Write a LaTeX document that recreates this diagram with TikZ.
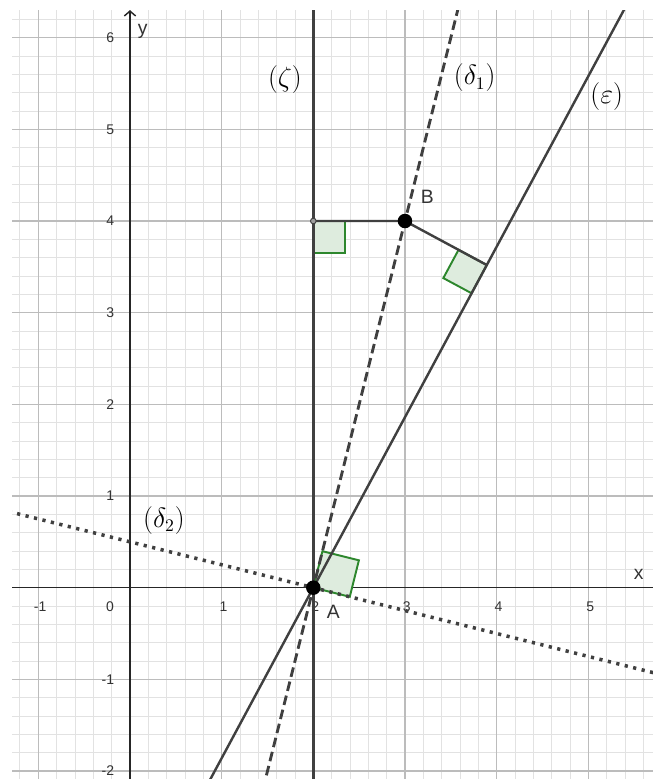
\documentclass[tikz,border=0pt]{standalone}
\usepackage{amsmath, amssymb}
\usepackage{fontspec}
\newfontfamily\geosf{Liberation Sans}
\usepackage{tikz}
\usetikzlibrary{calc, arrows.meta}
\definecolor{gridmajor}{RGB}{188,188,188}
\definecolor{gridminor}{RGB}{226,226,226}
\definecolor{linegray}{RGB}{64,64,64}
\definecolor{anglegreen}{RGB}{45,135,45}
\definecolor{anglefill}{RGB}{222,236,222}

\begin{document}
\begin{tikzpicture}[x=2cm, y=2cm,
    ticklabel/.style={font=\geosf\fontsize{8.7}{10}\selectfont, text=black!80, inner sep=0pt},
    pointlabel/.style={font=\geosf\fontsize{12}{14}\selectfont, text=black!80, inner sep=0pt},
    linelabel/.style={font=\fontsize{16}{18}\selectfont, text=black, inner sep=0pt},
    rightangle/.style={draw=anglegreen, fill=anglefill, line width=1.2pt},
    bigdot/.style={circle, fill=black, inner sep=0pt, minimum size=9pt}]
    \useasboundingbox (-1.418,-2.087) rectangle (5.705,6.411);

    % grid
    \draw[gridminor, line width=0.6pt] (-1.287,-2.087) grid[step=0.2] (5.705,6.30);
    \draw[gridmajor, line width=0.9pt] (-1.287,-2.087) grid[step=1] (5.705,6.30);

    % axes
    \draw[line width=0.9pt, black!85] (-1.287,0) -- (5.705,0);
    \draw[line width=0.9pt, black!85, -{Straight Barb[length=3pt, width=7pt]}] (0,-2.087) -- (0,6.30);
    \node[pointlabel] (xlab) at (5.55,0.14) {x};
    \node[pointlabel] (ylab) at (0.14,6.07) {y};

    % tick labels
    \foreach \x in {-1,1,2,3,4,5}
        \node[ticklabel] (xt\x) at (\x+0.02,-0.21) {\x};
    \node[ticklabel] (xt0) at (-0.218,-0.21) {0};
    \foreach \y in {-2,-1,1,2,3,4,5,6}
        \node[ticklabel, anchor=east] (yt\y) at (-0.17,\y) {\y};

    \coordinate (A) at (2,0);
    \coordinate (B) at (3,4);
    \coordinate (H) at (2,4);
    \coordinate (E) at (4,3.72);
    \coordinate (D) at (6,-1);
    \coordinate (K) at ($(A)!(B)!(E)$);

    % right angles
    \draw[rightangle] (H) -- ++(0.35,0) -- ++(0,-0.35) -- ++(-0.35,0) -- cycle;
    \draw[rightangle, shift={(A)}, rotate=-14.04] (0,0) rectangle (0.41,0.41);
    \draw[rightangle, shift={(K)}, rotate=151.73] (0,0) rectangle (0.35,0.35);

    \begin{scope}
        \clip (-1.287,-2.087) rectangle (5.705,6.30);
        % (zeta)
        \draw[linegray, line width=1.9pt] ($(A)!-0.6!(H)$) -- ($(A)!1.7!(H)$);
        % (delta_1)
        \draw[linegray, line width=1.8pt, dash pattern=on 6pt off 3pt] ($(A)!-0.55!(B)$) -- ($(A)!1.6!(B)$);
        % (delta_2)
        \draw[linegray, line width=2.2pt, dash pattern=on 2pt off 3.4pt] ($(A)!-0.9!(D)$) -- ($(A)!1.0!(D)$);
        % (epsilon)
        \draw[linegray, line width=1.5pt] ($(A)!-0.6!(E)$) -- ($(A)!2.0!(E)$);
    \end{scope}

    \draw[linegray, line width=1.5pt] (H) -- (B) -- (K);
    \node[circle, draw=linegray, fill=linegray!50, inner sep=0pt, minimum size=3.5pt, line width=0.6pt] (Hdot) at (H) {};
    \node[bigdot] (Adot) at (A) {};
    \node[bigdot] (Bdot) at (B) {};
    \node[pointlabel] (Alab) at (2.218,-0.262) {A};
    \node[pointlabel] (Blab) at (3.244,4.265) {B};

    % line names
    \node[linelabel] (zeta) at (1.69,5.54) {$(\zeta)$};
    \node[linelabel] (delta1) at (3.76,5.56) {$(\delta_1)$};
    \node[linelabel] (delta2) at (0.37,0.73) {$(\delta_2)$};
    \node[linelabel] (eps) at (5.20,5.36) {$(\varepsilon)$};
\end{tikzpicture}
\end{document}
